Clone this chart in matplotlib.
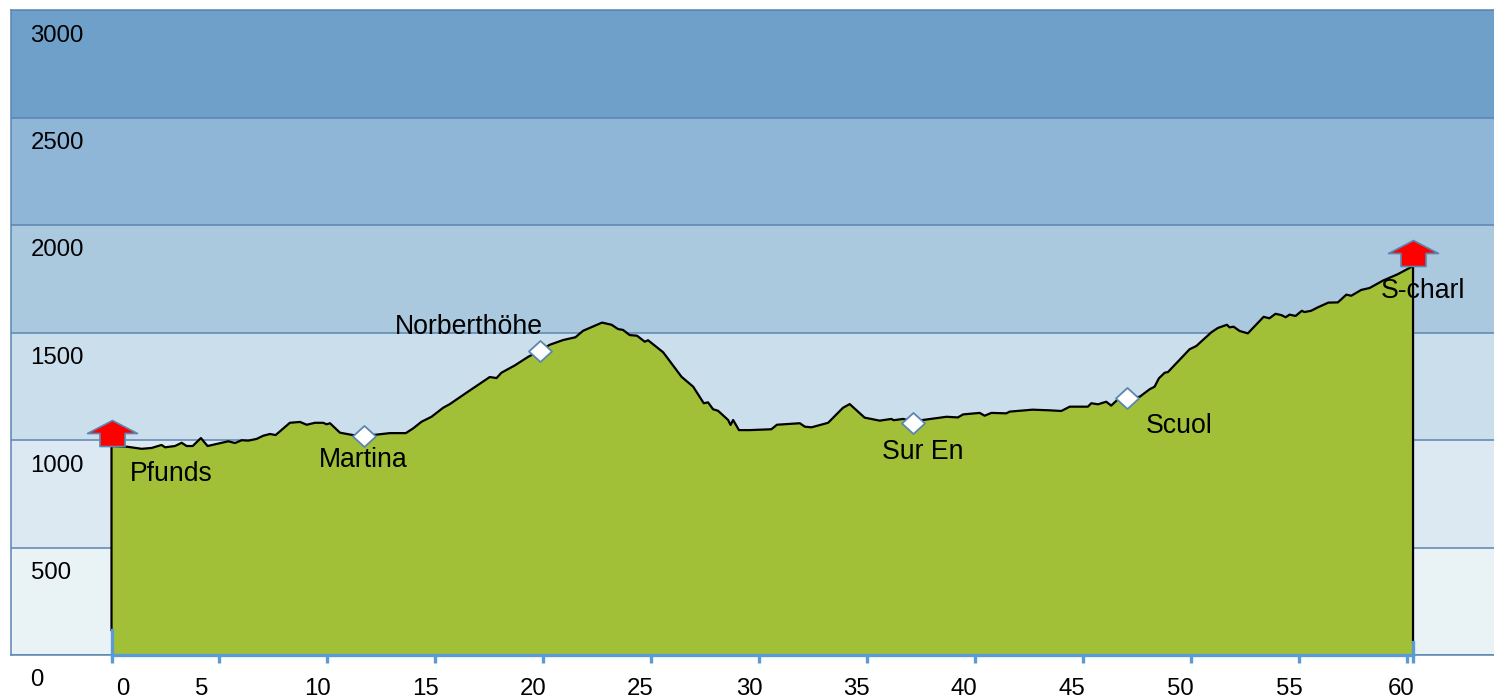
"""Elevation profile Pfunds - S-charl, 60 km route."""
import matplotlib
matplotlib.use("Agg")
import matplotlib.pyplot as plt  # noqa: E402
from matplotlib.path import Path  # noqa: E402
from matplotlib.transforms import ScaledTranslation  # noqa: E402

plt.rcParams["font.family"] = ["Liberation Sans", "DejaVu Sans"]

# route profile
km = [0.0, 0.70, 1.40, 1.86, 2.32, 2.48, 2.94, 3.25, 3.48, 3.76, 4.14, 4.45, 5.02, 5.41, 5.72,
      6.03, 6.33, 6.72, 7.03, 7.34, 7.60, 8.26, 8.73, 9.04, 9.42, 9.81, 9.96, 10.12, 10.58, 11.18,
      11.70, 12.28, 12.89, 13.63, 13.97, 14.36, 14.82, 15.36, 15.67, 16.44, 17.52, 17.83, 18.06,
      18.68, 19.30, 19.85, 20.30, 20.92, 21.49, 21.84, 22.46, 22.72, 23.16, 23.46, 23.69, 24.00,
      24.34, 24.70, 24.85, 25.55, 26.40, 26.94, 27.43, 27.63, 27.86, 28.09, 28.56, 28.67, 28.79,
      29.06, 29.56, 30.56, 30.82, 31.88, 32.11, 32.42, 33.19, 33.88, 34.19, 34.88, 35.58, 36.12,
      36.23, 36.66, 37.10, 37.58, 38.67, 39.20, 39.44, 40.21, 40.44, 40.75, 41.44, 41.60, 42.66,
      43.45, 43.99, 44.38, 45.22, 45.38, 45.69, 46.07, 46.30, 46.61, 47.05, 47.62, 48.08, 48.31,
      48.51, 48.78, 48.93, 49.93, 50.24, 50.94, 51.24, 51.66, 51.78, 51.97, 52.25, 52.63, 53.36,
      53.63, 53.91, 54.18, 54.38, 54.56, 54.84, 55.13, 55.25, 55.56, 55.87, 56.36, 56.80, 57.19,
      57.42, 57.88, 58.27, 58.88, 59.57, 60.28]
elev = [972, 969, 959, 963, 977, 966, 972, 987, 972, 972, 1009, 972, 985, 994, 986,
        999, 997, 1005, 1020, 1028, 1023, 1080, 1084, 1071, 1080, 1080, 1073, 1078, 1034, 1023,
        1019, 1025, 1032, 1032, 1054, 1085, 1108, 1150, 1167, 1220, 1293, 1288, 1313,
        1347, 1387, 1416, 1443, 1465, 1478, 1508, 1535, 1546, 1536, 1516, 1512, 1488,
        1485, 1457, 1464, 1408, 1294, 1248, 1171, 1175, 1143, 1136, 1093, 1070, 1093,
        1046, 1046, 1050, 1071, 1078, 1062, 1059, 1080, 1150, 1167, 1104, 1090, 1098,
        1092, 1098, 1088, 1093, 1108, 1105, 1119, 1126, 1113, 1126, 1124, 1132, 1141,
        1138, 1135, 1155, 1155, 1171, 1166, 1178, 1160, 1189, 1195, 1201, 1236, 1248,
        1287, 1313, 1316, 1422, 1437, 1501, 1521, 1536, 1524, 1527, 1507, 1496, 1573,
        1566, 1587, 1581, 1571, 1583, 1577, 1601, 1595, 1601, 1617, 1639, 1640, 1676,
        1671, 1698, 1707, 1741, 1771, 1809]
start_floor = 116
end_floor = 60

# places
end_names = ["Pfunds", "S-charl"]
end_km = [0.0, 60.28]
end_elev = [972, 1809]
via_names = ["Martina", "Norberthöhe", "Sur En", "Scuol"]
via_km = [11.70, 19.85, 37.10, 47.05]
via_elev = [1019, 1416, 1079, 1195]

# axes
band_edges = [0, 500, 1000, 1500, 2000, 2500, 3000]
band_colors = ["#e9f2f5", "#dce8f2", "#cbdeeb", "#aac8de", "#8fb5d7", "#6ea0c9"]
y_ticks = [0, 500, 1000, 1500, 2000, 2500, 3000]
x_ticks = [0, 5, 10, 15, 20, 25, 30, 35, 40, 45, 50, 55, 60]

LINE = "#5a86b0"
AXIS = "#5b9bd5"
GREEN = "#a2c037"
PX = 0.72  # points per pixel at dpi 100

fig = plt.figure(figsize=(14.94, 6.99), dpi=100)
ax = fig.add_axes([11 / 1494, 44 / 699, 1483 / 1494, 645 / 699])
ax.set_xlim(-4.655, 64.03)
ax.set_ylim(0, 3000)

for lo, hi, c in zip(band_edges[:-1], band_edges[1:], band_colors):
    ax.axhspan(lo, hi, color=c, lw=0, zorder=0)
ax.set_axisbelow(True)
ax.yaxis.grid(True, color=LINE, lw=1.1)
ax.xaxis.grid(False)

ax.fill_between(km, elev, 0, color=GREEN, lw=0, zorder=2)
ax.plot([0] + km + [km[-1]], [start_floor] + elev + [end_floor], color="black", lw=1.6, zorder=3,
        solid_joinstyle="round")

# blue distance axis
ax.plot([0, 0, km[-1], km[-1]], [start_floor, 0, 0, end_floor], color=AXIS, lw=2.4, zorder=4,
        clip_on=False, solid_joinstyle="miter")

arrow = Path([(-12.5, 0), (12.5, 0), (12.5, 13), (25, 13), (0, 26), (-25, 13), (-12.5, 13), (-12.5, 0)], closed=True)
diamond = Path([(-11.5, 0), (0, 10.5), (11.5, 0), (0, -10.5), (-11.5, 0)], closed=True)
ax.plot(end_km, end_elev, ls="", marker=arrow, ms=37.4, mfc="#ff0000", mec=LINE, mew=1.2, zorder=5, clip_on=False)
ax.plot(via_km, via_elev, ls="", marker=diamond, ms=16.6, mfc="white", mec=LINE, mew=1.3, zorder=5)

end_offsets = [(60, -28), (10, -25)]
via_offsets = [(-1, -24), (-71, 24), (10, -29), (52, -28)]
for name, x, y, (dx, dy) in zip(end_names + via_names, end_km + via_km, end_elev + via_elev,
                                end_offsets + via_offsets):
    ax.annotate(name, (x, y), xytext=(dx * PX, dy * PX), textcoords="offset points", ha="center", va="center",
                fontsize=19.2, color="black", zorder=6)

ax.set_yticks(y_ticks)
ax.set_yticklabels([str(v) for v in y_ticks], fontsize=17.3)
ax.tick_params(axis="y", length=0, pad=0)
for lab in ax.get_yticklabels():
    lab.set_ha("left")
    lab.set_transform(lab.get_transform() + ScaledTranslation(0.195, -0.23, fig.dpi_scale_trans))

ax.set_xticks(x_ticks)
ax.set_xticks([km[-1]], minor=True)
ax.set_xticklabels([str(v) for v in x_ticks], fontsize=17.3)
ax.tick_params(axis="x", which="both", color=AXIS, width=2.4, length=5.5, pad=11)
label_shift = [11.5, -18, -10, -10, -10, -11, -10, -11, -11, -11, -11, -10, -6]
for lab, dx in zip(ax.get_xticklabels(), label_shift):
    lab.set_transform(lab.get_transform() + ScaledTranslation(dx / 100, 0, fig.dpi_scale_trans))

for side in ("top", "left", "bottom"):
    ax.spines[side].set_color(LINE)
    ax.spines[side].set_linewidth(1.1)
ax.spines["right"].set_visible(False)

fig.savefig("out.png", dpi=100)
plt.close(fig)
